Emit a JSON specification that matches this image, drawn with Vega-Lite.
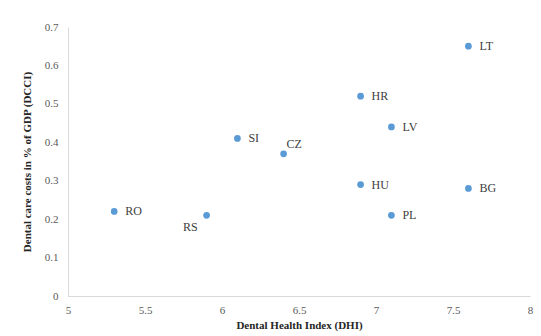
{
  "$schema": "https://vega.github.io/schema/vega-lite/v6.json",
  "autosize": "none",
  "width": 462,
  "height": 269,
  "padding": {"left": 68, "top": 27, "right": 11, "bottom": 40},
  "background": "white",
  "config": {"view": {"stroke": null}, "font": "Liberation Serif"},
  "data": {"values": [
    {"country": "LT", "dhi": 7.6, "dcci": 0.65},
    {"country": "HR", "dhi": 6.9, "dcci": 0.52},
    {"country": "LV", "dhi": 7.1, "dcci": 0.44},
    {"country": "SI", "dhi": 6.1, "dcci": 0.41},
    {"country": "CZ", "dhi": 6.4, "dcci": 0.37},
    {"country": "HU", "dhi": 6.9, "dcci": 0.29},
    {"country": "BG", "dhi": 7.6, "dcci": 0.28},
    {"country": "RO", "dhi": 5.3, "dcci": 0.22},
    {"country": "RS", "dhi": 5.9, "dcci": 0.21},
    {"country": "PL", "dhi": 7.1, "dcci": 0.21}
  ]},
  "encoding": {
    "x": {"field": "dhi", "type": "quantitative",
      "scale": {"domain": [5, 8], "nice": false, "zero": false},
      "axis": {"title": "Dental Health Index (DHI)", "values": [5, 5.5, 6, 6.5, 7, 7.5, 8], "format": "~g",
        "grid": false, "ticks": false, "domainColor": "#d9d9d9", "labelColor": "#595959",
        "labelFontSize": 11, "labelPadding": 8, "labelFont": "Liberation Serif",
        "titleFont": "Liberation Serif", "titleFontSize": 11, "titleFontWeight": "bold",
        "titleColor": "#262626", "titlePadding": 4, "labelFlush": false}},
    "y": {"field": "dcci", "type": "quantitative",
      "scale": {"domain": [0, 0.7], "nice": false},
      "axis": {"title": "Dental care costs in % of GDP (DCCI)", "values": [0, 0.1, 0.2, 0.3, 0.4, 0.5, 0.6, 0.7], "format": "~g",
        "grid": false, "ticks": false, "domainColor": "#d9d9d9", "labelColor": "#595959",
        "labelFontSize": 11, "labelPadding": 10, "labelFont": "Liberation Serif",
        "titleFont": "Liberation Serif", "titleFontSize": 11, "titleFontWeight": "bold",
        "titleColor": "#262626", "titlePadding": 12}}
  },
  "layer": [
    {"mark": {"type": "point", "filled": true, "size": 45, "opacity": 1, "color": "#5B9BD5"}},
    {"transform": [{"filter": "datum.country != 'RS' && datum.country != 'CZ'"}],
     "mark": {"type": "text", "align": "left", "baseline": "middle", "dx": 11, "dy": 0, "fontSize": 12, "color": "#404040"},
     "encoding": {"text": {"field": "country"}}},
    {"transform": [{"filter": "datum.country == 'CZ'"}],
     "mark": {"type": "text", "align": "left", "baseline": "middle", "dx": 3, "dy": -10, "fontSize": 12, "color": "#404040"},
     "encoding": {"text": {"field": "country"}}},
    {"transform": [{"filter": "datum.country == 'RS'"}],
     "mark": {"type": "text", "align": "right", "baseline": "middle", "dx": -9, "dy": 12, "fontSize": 12, "color": "#404040"},
     "encoding": {"text": {"field": "country"}}}
  ]
}
